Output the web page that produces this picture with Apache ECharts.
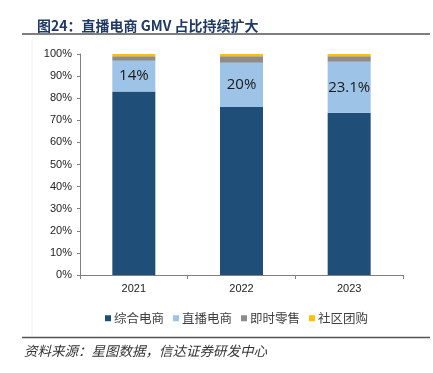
<!DOCTYPE html>
<html><head><meta charset="utf-8">
<script src="https://cdn.jsdelivr.net/npm/echarts@6/dist/echarts.min.js"></script>
<style>html,body{margin:0;padding:0;background:#fff}#c{width:433px;height:373px}</style>
</head><body><div id="c"></div>
<script>
const categories = ['2021', '2022', '2023'];
const seriesNames = ['综合电商', '直播电商', '即时零售', '社区团购'];
const zonghe = [83, 76, 73.4];
const zhibo = [14, 20, 23.1];
const jishi = [2, 3, 2.5];
const shequ = [1, 1, 1.0];
const yTicks = [0, 10, 20, 30, 40, 50, 60, 70, 80, 90, 100];
const colors = ['#1F4E79', '#9DC3E6', '#8C8C8C', '#FFC000'];

const chart = echarts.init(document.getElementById('c'), null, {renderer: 'canvas'});
const values = [zonghe, zhibo, jishi, shequ];
const series = seriesNames.map((n, i) => ({
  name: n, type: 'bar', stack: 'total', data: values[i], barWidth: 43,
  itemStyle: {color: colors[i]},
  label: i === 1 ? {show: true, position: 'inside', formatter: '{c}%', color: '#1a1a1a', fontSize: 15, fontFamily: 'Open Sans, Liberation Sans, sans-serif'} : {show: false}
}));
chart.setOption({
  animation: false,
  backgroundColor: '#fff',
  title: {text: '图24：直播电商 GMV 占比持续扩大', left: 32, top: 14,
    textStyle: {fontSize: 14, fontWeight: 'bold', color: '#1F3864', fontFamily: 'Noto Sans CJK SC, sans-serif'}},
  graphic: [
    {type: 'line', shape: {x1: 22, y1: 34, x2: 430, y2: 34}, style: {stroke: '#555', lineWidth: 1.5}},
    {type: 'line', shape: {x1: 32, y1: 40, x2: 32, y2: 336}, style: {stroke: '#f0f0f0', lineWidth: 1}},
    {type: 'line', shape: {x1: 22, y1: 337.5, x2: 430, y2: 337.5}, style: {stroke: '#555', lineWidth: 1.5}},
    {type: 'text', left: 24, top: 344, style: {text: '资料来源：星图数据，信达证券研发中心', fontSize: 13.5, fontStyle: 'italic', fill: '#333', fontFamily: 'Noto Sans CJK SC, sans-serif'}}
  ],
  legend: {data: seriesNames, top: 307, left: 100, itemWidth: 6, itemHeight: 6, itemGap: 9,
    icon: 'rect', textStyle: {fontSize: 12.5, color: '#404040', fontFamily: 'Noto Sans CJK SC, sans-serif', padding: [0,0,0,-2]}},
  grid: {left: 80, right: 30, top: 54, bottom: 98},
  xAxis: {type: 'category', data: categories,
    axisLine: {lineStyle: {color: '#808080'}},
    axisTick: {show: true, length: 4, lineStyle: {color: '#808080'}},
    axisLabel: {fontSize: 11, color: '#222', fontFamily: 'Liberation Sans, Arial, sans-serif', margin: 8}},
  yAxis: {type: 'value', min: 0, max: 100, interval: 10,
    axisLine: {show: true, lineStyle: {color: '#808080'}},
    axisTick: {show: true, length: 3, lineStyle: {color: '#808080'}},
    splitLine: {show: false},
    axisLabel: {fontSize: 11, color: '#222', fontFamily: 'Liberation Sans, Arial, sans-serif', margin: 8,
      formatter: v => yTicks.includes(v) ? v + '%' : ''}},
  series: series
});
</script></body></html>
